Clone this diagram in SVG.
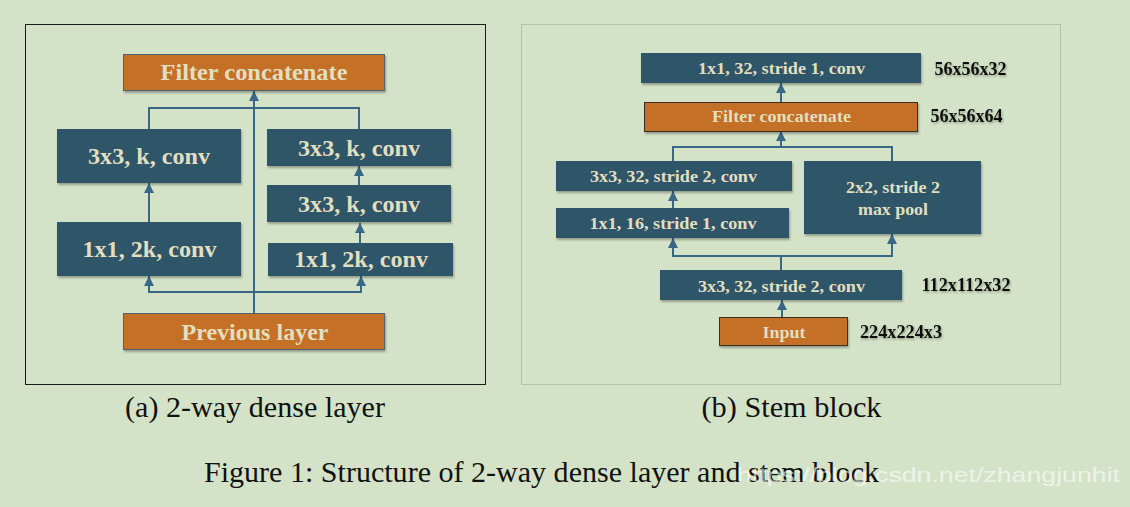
<svg xmlns="http://www.w3.org/2000/svg" width="1130" height="507" viewBox="0 0 1130 507">
<defs>
<style>
.bg{fill:#d4e3c7}
.teal{fill:#2d5467}
.orL{fill:#c46f26;stroke:#4d6470;stroke-width:1}
.orR{fill:#c46f26;stroke:#3b2e20;stroke-width:1}
.bt{font-family:"Liberation Serif","Times New Roman",serif;font-weight:bold;fill:#e2dfc0;text-anchor:middle}
.l{font-size:24px}
.r{font-size:17px}
.lab{font-family:"Liberation Serif","Times New Roman",serif;font-weight:bold;font-size:18px;fill:#111}
.cap{font-family:"Liberation Serif","Times New Roman",serif;font-size:29px;fill:#111}
.wm{font-family:"Liberation Sans",Arial,sans-serif;font-size:21px;fill:#ffffff;fill-opacity:0.6}
.ln{fill:none;stroke:#3a6785;stroke-width:2}
</style>
<marker id="ah" viewBox="0 0 10 10" refX="10" refY="5" markerWidth="10" markerHeight="10" markerUnits="userSpaceOnUse" orient="auto">
<path d="M0,0 L10,5 L0,10 z" fill="#3a6785"/>
</marker>
<filter id="sh" x="-10%" y="-20%" width="130%" height="150%">
<feDropShadow dx="1" dy="2" stdDeviation="1.2" flood-color="#000" flood-opacity="0.3"/>
</filter>
<filter id="tsh" x="-10%" y="-30%" width="130%" height="170%">
<feDropShadow dx="1" dy="1.5" stdDeviation="1" flood-color="#000" flood-opacity="0.3"/>
</filter>
</defs>
<rect class="bg" x="0" y="0" width="1130" height="507"/>
<rect x="25.5" y="24.5" width="460" height="360" fill="none" stroke="#1a1a1a" stroke-width="1"/>
<rect x="521.5" y="24.5" width="539" height="360" fill="none" stroke="#b6c2b0" stroke-width="1"/>

<g id="connectors">
<line class="ln" x1="254" y1="313" x2="254" y2="91" marker-end="url(#ah)"/>
<polyline class="ln" points="149,129 149,108 359,108 359,129"/>
<line class="ln" x1="149" y1="222" x2="149" y2="183" marker-end="url(#ah)"/>
<line class="ln" x1="359" y1="185" x2="359" y2="166" marker-end="url(#ah)"/>
<line class="ln" x1="360" y1="243" x2="360" y2="223" marker-end="url(#ah)"/>
<line class="ln" x1="149" y1="292" x2="361" y2="292"/>
<line class="ln" x1="149" y1="293" x2="149" y2="276" marker-end="url(#ah)"/>
<line class="ln" x1="361" y1="293" x2="361" y2="276" marker-end="url(#ah)"/>

<line class="ln" x1="781" y1="102" x2="781" y2="83" marker-end="url(#ah)"/>
<line class="ln" x1="781" y1="147" x2="781" y2="131" marker-end="url(#ah)"/>
<polyline class="ln" points="673,161 673,147 892,147 892,161"/>
<line class="ln" x1="673" y1="208" x2="673" y2="191" marker-end="url(#ah)"/>
<line class="ln" x1="781" y1="270" x2="781" y2="256"/>
<line class="ln" x1="672" y1="256" x2="893" y2="256"/>
<line class="ln" x1="673" y1="257" x2="673" y2="238" marker-end="url(#ah)"/>
<line class="ln" x1="892" y1="257" x2="892" y2="234" marker-end="url(#ah)"/>
<line class="ln" x1="782" y1="317" x2="782" y2="300" marker-end="url(#ah)"/>
</g>

<g id="a-filter-concat">
<rect class="orL" x="123.5" y="54.5" width="261" height="36" filter="url(#sh)"/>
<text class="bt l" x="254" y="80" textLength="187" lengthAdjust="spacingAndGlyphs">Filter concatenate</text>
</g>
<g id="a-left-3x3">
<rect class="teal" x="57" y="129" width="184" height="54" filter="url(#sh)"/>
<text class="bt l" x="149" y="163.5" textLength="122" lengthAdjust="spacingAndGlyphs">3x3, k, conv</text>
</g>
<g id="a-left-1x1">
<rect class="teal" x="57" y="222" width="184" height="54" filter="url(#sh)"/>
<text class="bt l" x="149.5" y="257" textLength="134" lengthAdjust="spacingAndGlyphs">1x1, 2k, conv</text>
</g>
<g id="a-right-3x3-top">
<rect class="teal" x="267" y="129" width="184" height="37" filter="url(#sh)"/>
<text class="bt l" x="359" y="155.5" textLength="122" lengthAdjust="spacingAndGlyphs">3x3, k, conv</text>
</g>
<g id="a-right-3x3-mid">
<rect class="teal" x="267" y="185" width="184" height="37" filter="url(#sh)"/>
<text class="bt l" x="359" y="212" textLength="122" lengthAdjust="spacingAndGlyphs">3x3, k, conv</text>
</g>
<g id="a-right-1x1">
<rect class="teal" x="268" y="243" width="185" height="33" filter="url(#sh)"/>
<text class="bt l" x="361" y="267" textLength="134" lengthAdjust="spacingAndGlyphs">1x1, 2k, conv</text>
</g>
<g id="a-previous-layer">
<rect class="orL" x="123.5" y="313.5" width="261" height="36" filter="url(#sh)"/>
<text class="bt l" x="255" y="339.5" textLength="147" lengthAdjust="spacingAndGlyphs">Previous layer</text>
</g>

<g id="b-conv-1x1-32">
<rect class="teal" x="641" y="53" width="280" height="30" filter="url(#sh)"/>
<text class="bt r" x="781.5" y="74" textLength="167" lengthAdjust="spacingAndGlyphs">1x1, 32, stride 1, conv</text>
</g>
<g id="b-filter-concat">
<rect class="orR" x="644.5" y="102.5" width="273" height="29" filter="url(#sh)"/>
<text class="bt r" x="781.5" y="122" textLength="139" lengthAdjust="spacingAndGlyphs">Filter concatenate</text>
</g>
<g id="b-conv-3x3-upper">
<rect class="teal" x="556" y="161" width="236" height="30" filter="url(#sh)"/>
<text class="bt r" x="673.5" y="181.5" textLength="167" lengthAdjust="spacingAndGlyphs">3x3, 32, stride 2, conv</text>
</g>
<g id="b-conv-1x1-16">
<rect class="teal" x="556" y="208" width="233" height="30" filter="url(#sh)"/>
<text class="bt r" x="673" y="229" textLength="167" lengthAdjust="spacingAndGlyphs">1x1, 16, stride 1, conv</text>
</g>
<g id="b-maxpool">
<rect class="teal" x="804" y="161" width="177" height="73" filter="url(#sh)"/>
<text class="bt r" x="893" y="192.5" textLength="94" lengthAdjust="spacingAndGlyphs">2x2, stride 2</text>
<text class="bt r" x="893" y="215" textLength="70" lengthAdjust="spacingAndGlyphs">max pool</text>
</g>
<g id="b-conv-3x3-lower">
<rect class="teal" x="660" y="270" width="242" height="30" filter="url(#sh)"/>
<text class="bt r" x="781.5" y="291.5" textLength="167" lengthAdjust="spacingAndGlyphs">3x3, 32, stride 2, conv</text>
</g>
<g id="b-input">
<rect class="orR" x="719.5" y="317.5" width="128" height="28" filter="url(#sh)"/>
<text class="bt r" x="784" y="338" textLength="43" lengthAdjust="spacingAndGlyphs">Input</text>
</g>

<g id="b-labels" filter="url(#tsh)">
<text class="lab" x="934.5" y="74.5" textLength="72" lengthAdjust="spacingAndGlyphs">56x56x32</text>
<text class="lab" x="930.5" y="121.5" textLength="72" lengthAdjust="spacingAndGlyphs">56x56x64</text>
<text class="lab" x="921.5" y="290.5" textLength="89" lengthAdjust="spacingAndGlyphs">112x112x32</text>
<text class="lab" x="860" y="338" textLength="82" lengthAdjust="spacingAndGlyphs">224x224x3</text>
</g>

<g id="captions">
<text class="cap" x="125" y="417" textLength="260" lengthAdjust="spacingAndGlyphs">(a) 2-way dense layer</text>
<text class="cap" x="701.5" y="417" textLength="180" lengthAdjust="spacingAndGlyphs">(b) Stem block</text>
<text class="cap" x="204" y="481.5" textLength="675" lengthAdjust="spacingAndGlyphs">Figure 1: Structure of 2-way dense layer and stem block</text>
<text class="wm" x="737" y="482" textLength="383" lengthAdjust="spacingAndGlyphs">https://blog.csdn.net/zhangjunhit</text>
</g>
</svg>
